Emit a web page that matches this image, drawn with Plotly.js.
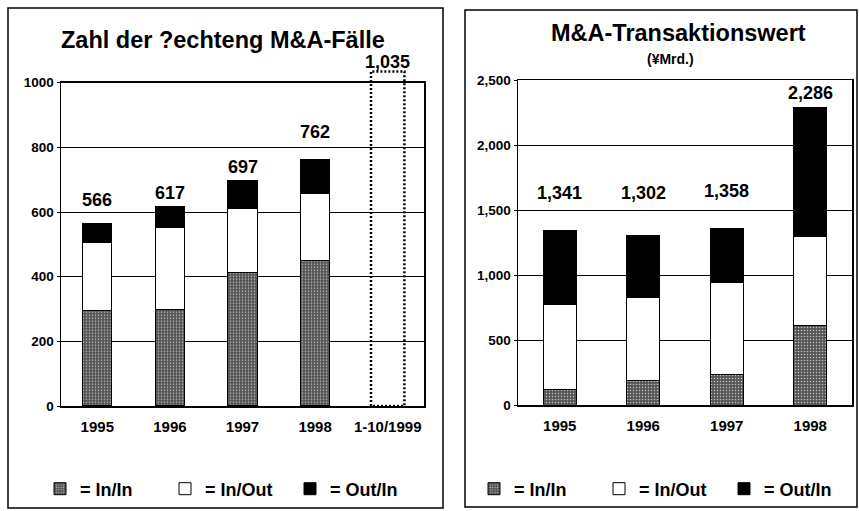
<!DOCTYPE html>
<html><head><meta charset="utf-8">
<script src="https://cdn.plot.ly/plotly-3.0.1.min.js"></script>
<style>html,body{margin:0;padding:0;background:#fff}#chart{width:859px;height:511px}</style>
</head><body><div id="chart"></div>
<script>
// ---- data: left chart (number of deals) ----
const countYears  = ['1995','1996','1997','1998','1-10/1999'];
const countInIn   = [295, 300, 412, 451, null];
const countInOut  = [212, 253, 200, 207, null];
const countOutIn  = [59, 64, 85, 104, null];
const countTotals = [566, 617, 697, 762, 1035];

// ---- data: right chart (transaction value, ¥ bn) ----
const valueYears  = ['1995','1996','1997','1998'];
const valueInIn   = [116, 187, 237, 610];
const valueInOut  = [655, 643, 706, 690];
const valueOutIn  = [570, 472, 415, 986];
const valueTotals = [1341, 1302, 1358, 2286];

const seriesNames = ['= In/In', '= In/Out', '= Out/In'];
const leftTitle  = 'Zahl der ?echteng M&A-Fälle';
const rightTitle = 'M&A-Transaktionswert';
const rightSub   = '(¥Mrd.)';

// ---- styling / layout ----
const W = 859, H = 511;
const px = v => v / W, py = v => 1 - v / H;
const FONT = '"Liberation Sans", Arial, sans-serif';
const bold = (size) => ({family: FONT, size: size, color: '#000', weight: 700});
const barWidth = 0.4;
const projHalf = 0.23;
const leftLift  = [23, 14, 14, 28, 9];   // label offset above bar top (px)
const rightLift = [38, 43, 37, 15];

// left plot frame in px
const L = {x0: 61, x1: 424, yBottom: 406, yTop: 82.7, max: 1000, ext: 1100};
const leftScale = (L.yBottom - L.yTop) / L.max;

const seriesStyle = [
  {color: '#5e5e5e', line: {color: '#000', width: 1},
   pattern: {shape: '.', fgcolor: '#c4c4c4', bgcolor: '#555555', size: 3, solidity: 0.2}},
  {color: '#ffffff', line: {color: '#000', width: 1}},
  {color: '#000000', line: {color: '#000', width: 1}}
];

function stack(cats, arrays, xa, ya, legendId) {
  return arrays.map((vals, k) => ({
    type: 'bar', name: seriesNames[k],
    x: cats.map((_, i) => i), y: vals,
    xaxis: xa, yaxis: ya, width: barWidth,
    marker: seriesStyle[k], legend: legendId,
    hoverinfo: 'skip'
  }));
}

const traces = [
  ...stack(countYears, [countInIn, countInOut, countOutIn], 'x', 'y', 'legend'),
  ...stack(valueYears, [valueInIn, valueInOut, valueOutIn], 'x2', 'y2', 'legend2')
];

// projected (dotted outline) bar for categories without breakdown,
// drawn on an invisible axis pair with the same scale but extended above 1000
countYears.forEach((c, i) => {
  if (countInIn[i] === null) {
    const t = countTotals[i];
    traces.push({
      type: 'scatter', mode: 'lines', showlegend: false,
      x: [i - projHalf, i - projHalf, i + projHalf, i + projHalf, i - projHalf],
      y: [0, t, t, 0, 0], xaxis: 'x3', yaxis: 'y3',
      line: {color: '#000', width: 2.5, dash: '2px,2px'}, hoverinfo: 'skip'
    });
  }
});

const fmt = v => v.toLocaleString('en-US');
const annotations = [];
countTotals.forEach((t, i) => annotations.push({
  x: i, y: t, xref: 'x3', yref: 'y3', text: fmt(t), showarrow: false,
  yanchor: 'middle', yshift: leftLift[i], font: bold(18)
}));
valueTotals.forEach((t, i) => annotations.push({
  x: i, y: t, xref: 'x2', yref: 'y2', text: fmt(t), showarrow: false,
  yanchor: 'middle', yshift: rightLift[i], font: bold(18)
}));
annotations.push(
  {x: px(223), y: py(40), xref: 'paper', yref: 'paper', text: leftTitle, showarrow: false,
   xanchor: 'center', yanchor: 'middle', font: bold(23.5)},
  {x: px(678), y: py(33), xref: 'paper', yref: 'paper', text: rightTitle, showarrow: false,
   xanchor: 'center', yanchor: 'middle', font: bold(23.5)},
  {x: px(670), y: py(59), xref: 'paper', yref: 'paper', text: rightSub, showarrow: false,
   xanchor: 'center', yanchor: 'middle', font: bold(14)}
);

const axisX = (dom, n, cats, anchor) => ({
  domain: dom, range: [-0.5, n - 0.5], tickvals: cats.map((_, i) => i), ticktext: cats,
  showgrid: false, zeroline: false, showline: true, mirror: true,
  linecolor: '#000', linewidth: 1.5, ticks: '', tickfont: bold(15),
  ticklabelstandoff: 6, anchor: anchor, fixedrange: true
});
const axisY = (dom, range, dtick, fmtStr, anchor) => ({
  domain: dom, range: range, dtick: dtick, tick0: 0, tickformat: fmtStr,
  showgrid: true, gridcolor: '#000', gridwidth: 1, zeroline: false,
  showline: true, mirror: true, linecolor: '#000', linewidth: 1.5,
  ticks: 'outside', ticklen: 3, tickcolor: '#000', tickfont: bold(13.5),
  anchor: anchor, fixedrange: true
});

const panel = (x0, y0, x1, y1) => ({
  type: 'rect', xref: 'paper', yref: 'paper',
  x0: px(x0), x1: px(x1), y0: py(y1), y1: py(y0),
  line: {color: '#000', width: 1.5}, fillcolor: 'rgba(0,0,0,0)'
});

const legendBase = {
  orientation: 'h', yanchor: 'middle', xanchor: 'left',
  font: bold(18), bgcolor: 'rgba(0,0,0,0)', borderwidth: 0,
  entrywidth: 80, entrywidthmode: 'pixels', traceorder: 'normal'
};

const layout = {
  width: W, height: H, margin: {l: 0, r: 0, t: 0, b: 0},
  paper_bgcolor: '#fff', plot_bgcolor: 'rgba(0,0,0,0)',
  barmode: 'stack', showlegend: true,
  font: {family: FONT, color: '#000'},
  xaxis: axisX([px(L.x0), px(L.x1)], countYears.length, countYears, 'y'),
  yaxis: axisY([py(L.yBottom), py(L.yTop)], [0, L.max], 200, 'd', 'x'),
  xaxis3: {domain: [px(L.x0), px(L.x1)], range: [-0.5, countYears.length - 0.5],
           visible: false, anchor: 'y3', fixedrange: true},
  yaxis3: {domain: [py(L.yBottom), py(L.yBottom - L.ext * leftScale)], range: [0, L.ext],
           visible: false, anchor: 'x3', fixedrange: true},
  xaxis2: axisX([px(518), px(852)], valueYears.length, valueYears, 'y2'),
  yaxis2: axisY([py(405), py(80)], [0, 2500], 500, ',d', 'x2'),
  legend: Object.assign({}, legendBase, {x: px(40), y: py(489)}),
  legend2: Object.assign({}, legendBase, {x: px(474), y: py(489)}),
  annotations: annotations,
  shapes: [panel(8, 8, 443, 508), panel(465, 10, 857, 507)]
};

Plotly.newPlot('chart', traces, layout, {displayModeBar: false, staticPlot: true});
</script>
</body></html>
